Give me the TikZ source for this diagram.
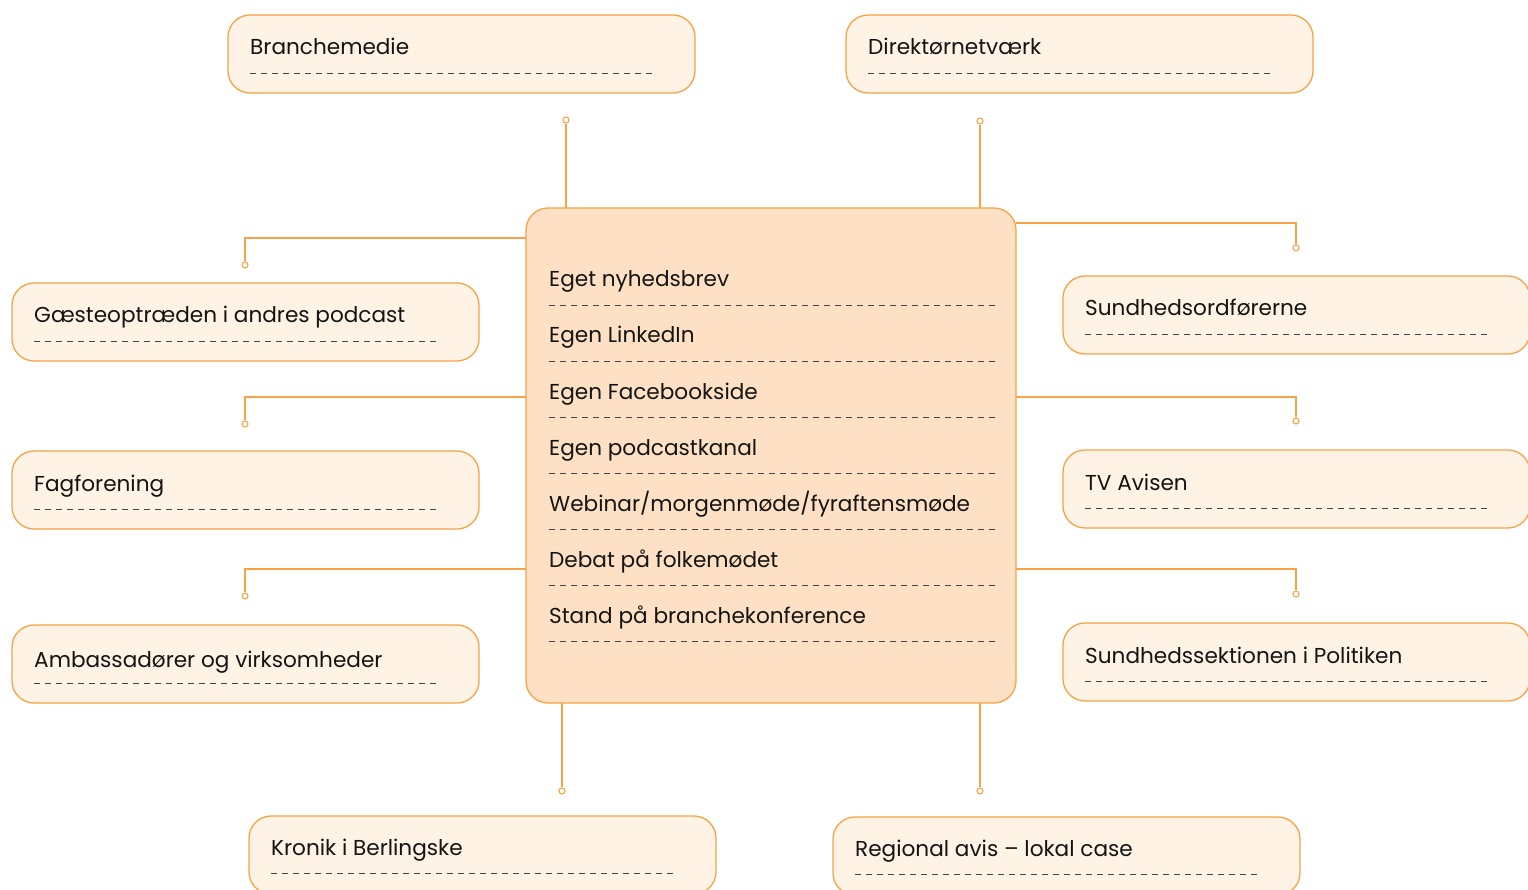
\documentclass[tikz,border=0pt]{standalone}
\usepackage{fontspec}
\setmainfont{Poppins}
\definecolor{org}{RGB}{247,163,69}
\definecolor{boxfill}{RGB}{254,243,228}
\definecolor{cfill}{RGB}{254,225,196}
\definecolor{txt}{RGB}{20,20,20}
\definecolor{dsh}{RGB}{70,70,70}
\begin{document}
\begin{tikzpicture}[x=1pt,y=-1pt,
  box/.style={draw=org,line width=1.3pt,fill=boxfill,rounded corners=22pt,
    minimum width=467pt,minimum height=78pt,inner sep=0pt,outer sep=0pt,anchor=north west},
  cbox/.style={draw=org,line width=1.3pt,fill=cfill,rounded corners=22pt,
    minimum width=490pt,minimum height=495pt,inner sep=0pt,outer sep=0pt,anchor=north west},
  lbl/.style={anchor=base west,inner sep=0pt,text=txt,font=\fontsize{21.6}{26}\selectfont},
  dl/.style={draw=dsh,line width=0.9pt,dash pattern=on 6pt off 5pt},
  con/.style={draw=org,line width=1.3pt},
  dot/.style={circle,draw=org,fill=white,line width=1.1pt,minimum size=6pt,inner sep=0pt},
]
\useasboundingbox (0,0) rectangle (1528,890);
\clip (0,0) rectangle (1528,890);

% center box
\node[cbox] (c) at (526,208) {};
\foreach \t/\y [count=\i] in {{Eget nyhedsbrev}/287, {Egen LinkedIn}/343, {Egen Facebookside}/399,
  {Egen podcastkanal}/455, {Webinar/morgenmøde/fyraftensmøde}/511, {Debat på folkemødet}/567,
  {Stand på branchekonference}/623}{
  \node[lbl] (ct\i) at (549,\y) {\t};
  \draw[dl] (549,\y+18) -- (998,\y+18);
}

\node[box] (b1) at (228,15) {};
\node[lbl] (t1) at (250,55) {Branchemedie};
\draw[dl] (250,73) -- (655,73);

\node[box] (b2) at (846,15) {};
\node[lbl] (t2) at (868,55) {Direktørnetværk};
\draw[dl] (868,73) -- (1273,73);

\node[box] (b3) at (12,283) {};
\node[lbl] (t3) at (34,323) {Gæsteoptræden i andres podcast};
\draw[dl] (34,341) -- (438,341);

\node[box] (b4) at (12,451) {};
\node[lbl] (t4) at (34,491) {Fagforening};
\draw[dl] (34,509) -- (438,509);

\node[box] (b5) at (12,625) {};
\node[lbl] (t5) at (34,667) {Ambassadører og virksomheder};
\draw[dl] (34,683) -- (438,683);

\node[box] (b6) at (1063,276) {};
\node[lbl] (t6) at (1085,316) {Sundhedsordførerne};
\draw[dl] (1085,334) -- (1489,334);

\node[box] (b7) at (1063,450) {};
\node[lbl] (t7) at (1085,490) {TV Avisen};
\draw[dl] (1085,508) -- (1489,508);

\node[box] (b8) at (1063,623) {};
\node[lbl] (t8) at (1085,663) {Sundhedssektionen i Politiken};
\draw[dl] (1085,681) -- (1489,681);

\node[box] (b9) at (249,816) {};
\node[lbl] (t9) at (271,855) {Kronik i Berlingske};
\draw[dl] (271,873) -- (675,873);

\node[box] (b10) at (833,817) {};
\node[lbl] (t10) at (855,856) {Regional avis – lokal case};
\draw[dl] (855,874) -- (1259,874);

% connector anchors
\coordinate (l1) at (0,238);
\coordinate (l2) at (0,397);
\coordinate (l3) at (0,569);
\coordinate (r1) at (0,223);
\coordinate (r2) at (0,397);
\coordinate (r3) at (0,569);

% dots
\node[dot] (dt1) at (566,120) {};
\node[dot] (dt2) at (980,121) {};
\node[dot] (dl1) at (245,265) {};
\node[dot] (dl2) at (245,424) {};
\node[dot] (dl3) at (245,596) {};
\node[dot] (dr1) at (1296,248) {};
\node[dot] (dr2) at (1296,421) {};
\node[dot] (dr3) at (1296,594) {};
\node[dot] (db1) at (562,791) {};
\node[dot] (db2) at (980,791) {};

% connectors
\draw[con] (dt1) -- (dt1 |- c.north);
\draw[con] (dt2) -- (dt2 |- c.north);
\draw[con] (db1) -- (db1 |- c.south);
\draw[con] (db2) -- (db2 |- c.south);
\draw[con] (c.west |- l1) -| (dl1);
\draw[con] (c.west |- l2) -| (dl2);
\draw[con] (c.west |- l3) -| (dl3);
\draw[con] (c.east |- r1) -| (dr1);
\draw[con] (c.east |- r2) -| (dr2);
\draw[con] (c.east |- r3) -| (dr3);
\end{tikzpicture}
\end{document}
